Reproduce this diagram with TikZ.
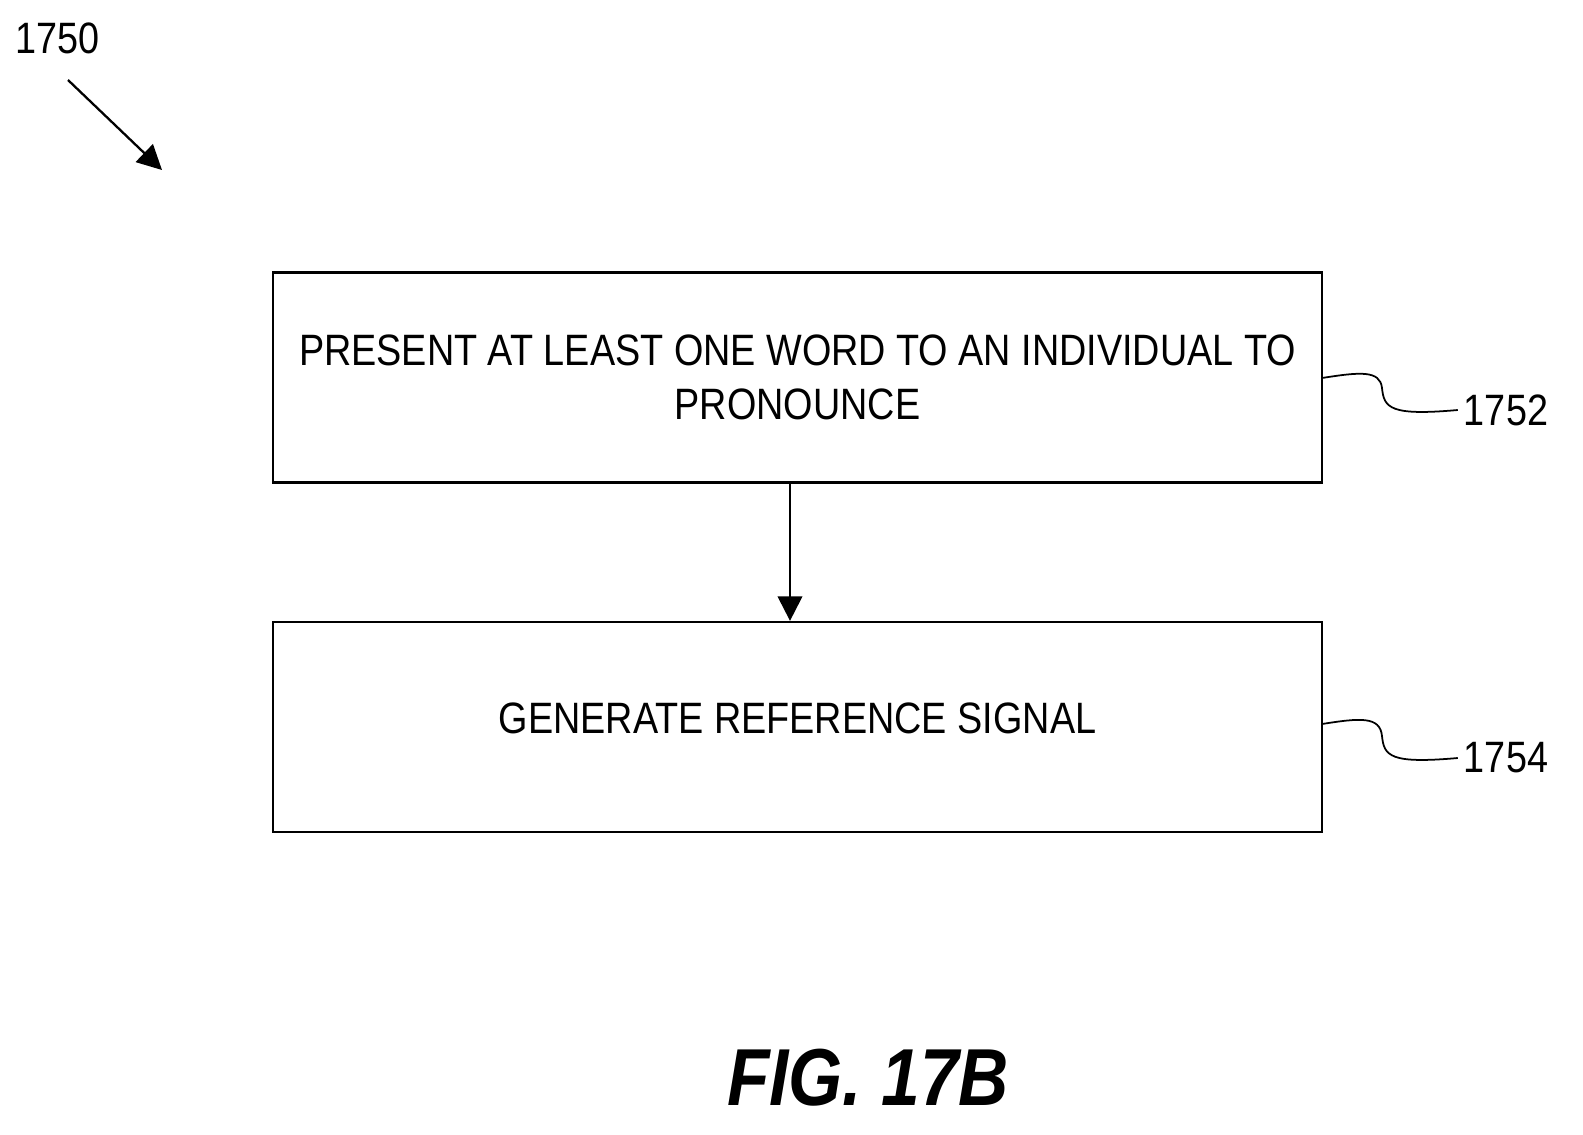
\documentclass[tikz,border=0pt]{standalone}
\usepackage{fontspec}
\setmainfont{Liberation Sans}[FakeStretch=0.86]
\usetikzlibrary{arrows.meta}
\begin{document}
\begin{tikzpicture}[x=0.02cm,y=-0.02cm,
  box/.style={draw,line width=1.3pt,minimum width=1049*0.02cm,minimum height=210*0.02cm,align=center,font=\fontsize{25}{29}\selectfont},
  lbl/.style={font=\fontsize{25}{29}\selectfont},
  arr/.style={line width=1.3pt,-{Triangle[length=14pt,width=14pt]}}]
\useasboundingbox (0,0) rectangle (1583,1134);
\node[box] (b1) at (797.5,377.5) {PRESENT AT LEAST ONE WORD TO AN INDIVIDUAL TO\\[2pt]PRONOUNCE};
\node[box] (b2) at (797.5,727) {\raisebox{10pt}{GENERATE REFERENCE SIGNAL}};
\draw[arr] (790,483) -- (b2.north -| 790,0);
\node[lbl] (l1) at (1506,410) {1752};
\node[lbl] (l2) at (1506,758) {1754};
\node[lbl] (l0) at (58,38) {1750};
\coordinate (a0) at (68,80);
\coordinate (a1) at (162,170);
\draw[arr] (a0) -- (a1);
\draw[line width=1pt] (1322,378) .. controls (1360,372) and (1380,370) .. (1382,388) .. controls (1384,408) and (1390,416) .. (l1.west);
\draw[line width=1pt] (1322,724) .. controls (1360,718) and (1380,716) .. (1382,736) .. controls (1384,756) and (1390,764) .. (l2.west);
\node[font=\fontsize{46}{50}\selectfont\bfseries\itshape] (fig) at (868,1078) {FIG. 17B};
\end{tikzpicture}
\end{document}
